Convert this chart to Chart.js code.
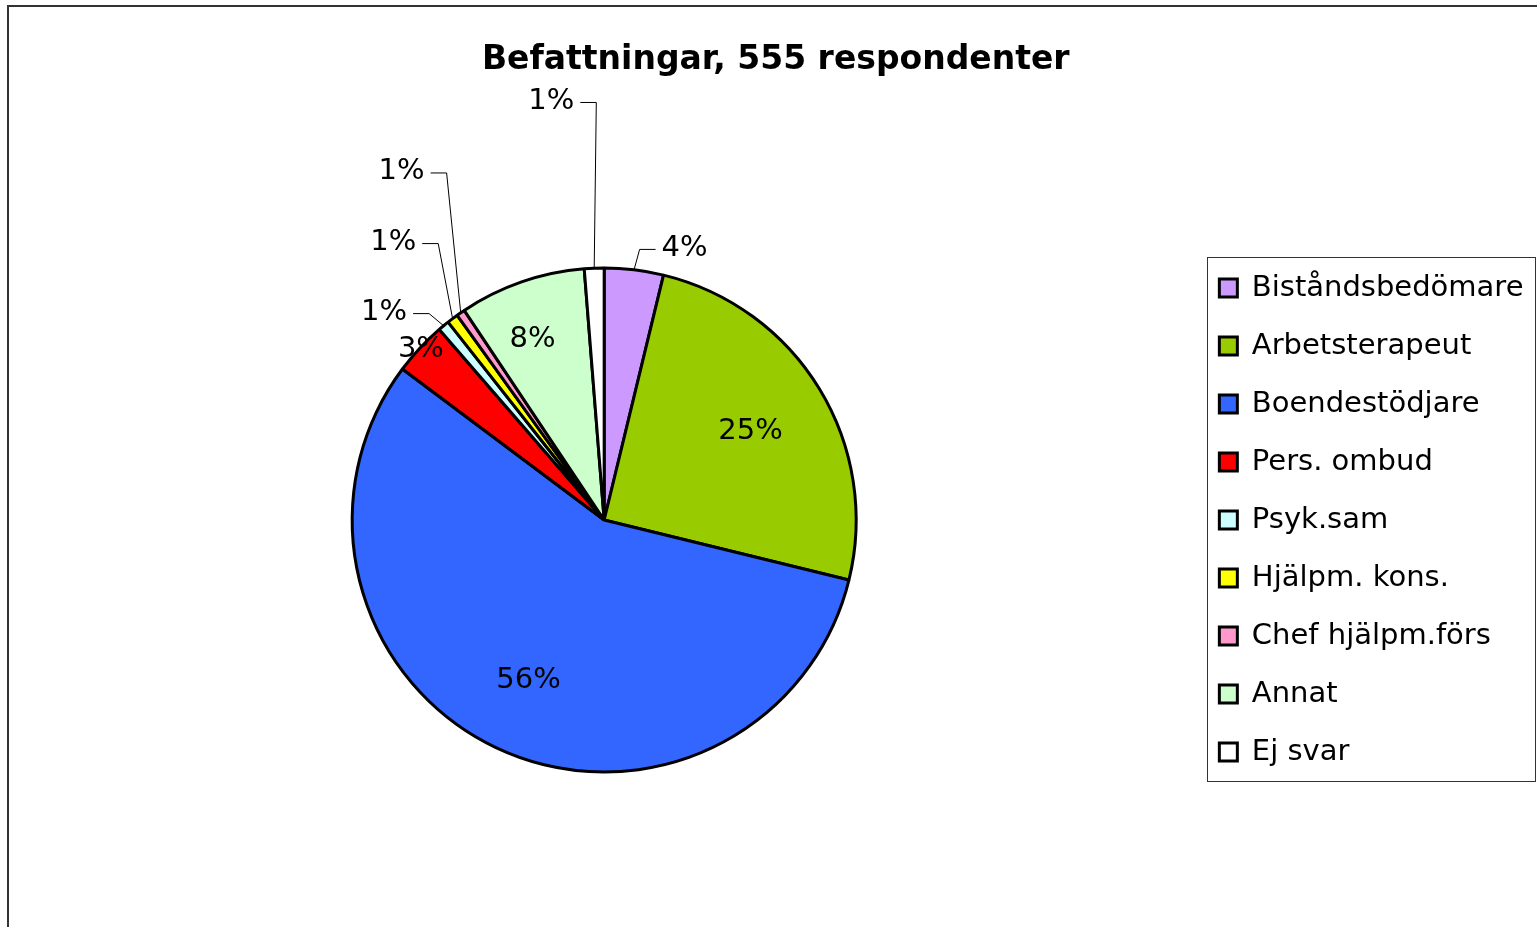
<!DOCTYPE html>
<html lang="sv">
<head>
<meta charset="utf-8">
<title>Befattningar, 555 respondenter</title>
<script src="https://cdn.jsdelivr.net/npm/chart.js@4.4.1/dist/chart.umd.min.js"></script>
<style>
  html, body { margin: 0; padding: 0; background: #fff; overflow: hidden; }
  #wrap { position: relative; width: 1537px; height: 927px; }
</style>
</head>
<body>
<div id="wrap"><canvas id="pieChart"></canvas></div>
<script>
// Data
const categories = ['Biståndsbedömare', 'Arbetsterapeut', 'Boendestödjare', 'Pers. ombud', 'Psyk.sam', 'Hjälpm. kons.', 'Chef hjälpm.förs', 'Annat', 'Ej svar'];
const respondents = [21, 139, 313, 19, 4, 4, 3, 45, 7];
const sliceColors = ['#CC99FF', '#99CC00', '#3366FF', '#FF0000', '#CCFFFF', '#FFFF00', '#FF99CC', '#CCFFCC', '#FFFFFF'];
const titleText = 'Befattningar, 555 respondenter';

const FONT = "'DejaVu Sans', 'Liberation Sans', sans-serif";

// Label placement: labels sit at outerRadius * r, on the slice middle unless
// a deg (from 12 o'clock) is given; "out" ones also get a leader line
const labelPlace = [
  { out: true, deg: 16.5, r: 1.124 },
  { r: 0.68 },
  { r: 0.703 },
  { r: 0.994 },
  { out: true, deg: -46.7, r: 1.2 },
  { out: true, deg: -37.25, r: 1.383 },
  { out: true, deg: -30.2, r: 1.598 },
  { deg: -21.7, r: 0.769 },
  { out: true, deg: -7.2, r: 1.674 }
];

const pieExtras = {
  id: 'pieExtras',
  beforeDraw(chart) {
    // outer frame (only left and top edges are visible)
    const ctx = chart.ctx;
    ctx.save();
    ctx.strokeStyle = '#333';
    ctx.lineWidth = 2;
    ctx.beginPath();
    ctx.moveTo(8, chart.height);
    ctx.lineTo(8, 6);
    ctx.lineTo(chart.width, 6);
    ctx.stroke();
    ctx.restore();
  },
  afterDatasetsDraw(chart) {
    const ctx = chart.ctx;
    const arcs = chart.getDatasetMeta(0).data;
    const total = respondents.reduce((a, b) => a + b, 0);
    ctx.save();
    ctx.font = '29px ' + FONT;
    ctx.fillStyle = '#000';
    ctx.strokeStyle = '#000';
    ctx.lineWidth = 1;
    ctx.textAlign = 'center';
    ctx.textBaseline = 'middle';
    arcs.forEach((arc, i) => {
      const p = arc.getProps(['x', 'y', 'startAngle', 'endAngle', 'outerRadius'], true);
      const mid = (p.startAngle + p.endAngle) / 2;
      const place = labelPlace[i];
      const txt = Math.round(respondents[i] / total * 100) + '%';
      const a = place.deg !== undefined ? (place.deg - 90) * Math.PI / 180 : mid;
      const tx = p.x + Math.cos(a) * p.outerRadius * place.r;
      const ty = p.y + Math.sin(a) * p.outerRadius * place.r;
      if (place.out) {
        const half = ctx.measureText(txt).width / 2;
        const side = tx < p.x ? 1 : -1;
        const x0 = tx + side * (half + 6);
        const x1 = x0 + side * 16;
        ctx.beginPath();
        ctx.moveTo(x0, ty + 1);
        ctx.lineTo(x1, ty + 1);
        ctx.lineTo(p.x + Math.cos(mid) * p.outerRadius, p.y + Math.sin(mid) * p.outerRadius);
        ctx.stroke();
      }
      ctx.fillText(txt, tx, ty);
    });
    ctx.restore();
  },
  afterDraw(chart) {
    // border round the legend
    const boxes = chart.legend.legendHitBoxes;
    if (!boxes || !boxes.length) return;
    const first = boxes[0];
    const last = boxes[boxes.length - 1];
    const left = first.left - 12;
    const top = first.top - 16.5;
    const right = left + 328;
    const bottom = last.top + last.height + 14.5;
    const ctx = chart.ctx;
    ctx.save();
    ctx.strokeStyle = '#333';
    ctx.lineWidth = 1;
    ctx.strokeRect(Math.round(left) + 0.5, Math.round(top) + 0.5, Math.round(right - left), Math.round(bottom - top));
    ctx.restore();
  }
};

new Chart(document.getElementById('pieChart'), {
  type: 'pie',
  data: {
    labels: categories,
    datasets: [{
      data: respondents,
      backgroundColor: sliceColors,
      borderColor: '#000',
      borderWidth: 3,
      hoverOffset: 0,
      radius: 252
    }]
  },
  options: {
    responsive: true,
    maintainAspectRatio: false,
    animation: false,
    events: [],
    layout: { padding: { left: 18, right: 3.5, top: 0, bottom: 77 } },
    plugins: {
      title: {
        display: true,
        text: titleText,
        color: '#000',
        font: { family: FONT, size: 33, weight: 'bold' },
        padding: { top: 41, bottom: 109.4 }
      },
      legend: {
        position: 'right',
        fullSize: false,
        align: 'center',
        labels: {
          boxWidth: 18,
          boxHeight: 18,
          padding: 29,
          color: '#000',
          font: { family: FONT, size: 29 }
        }
      },
      tooltip: { enabled: false }
    }
  },
  plugins: [pieExtras]
});
</script>
</body>
</html>
